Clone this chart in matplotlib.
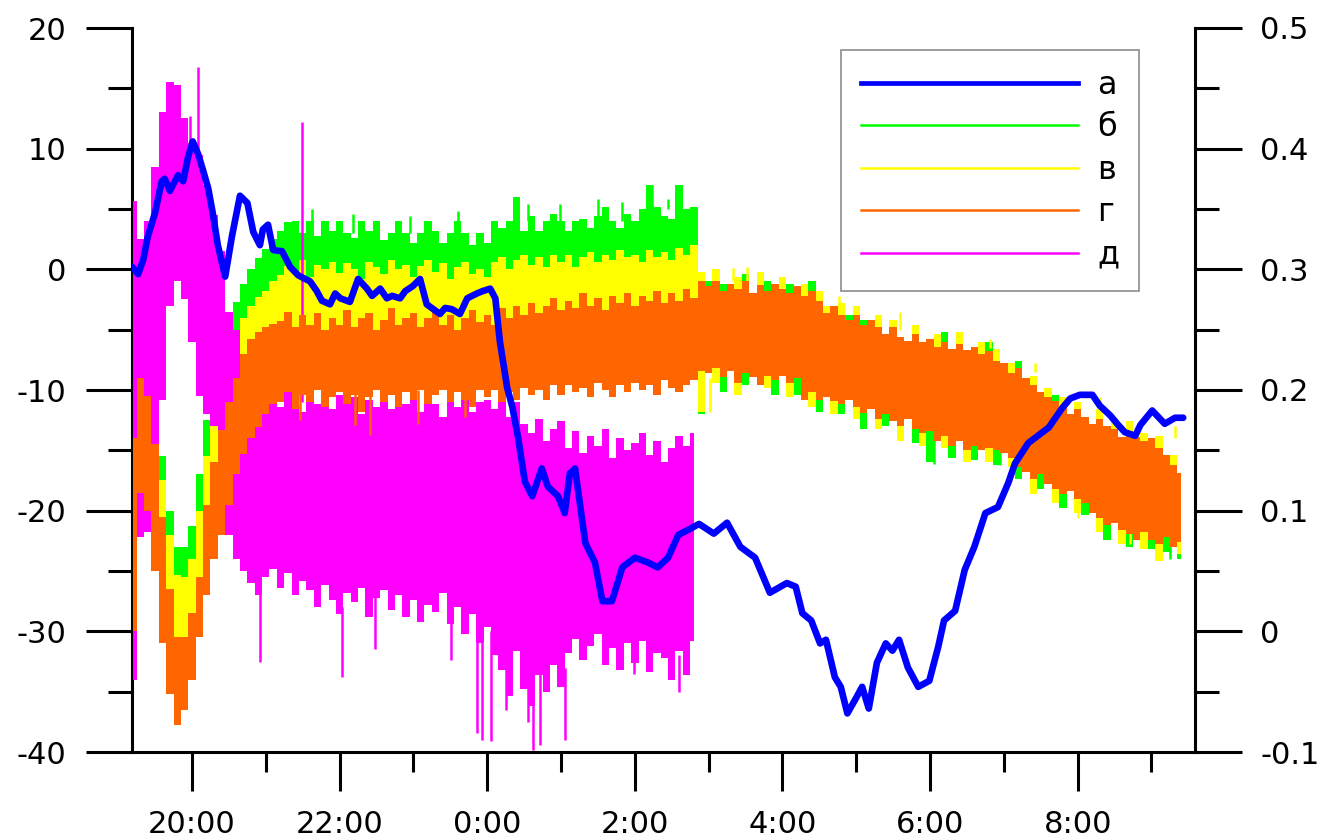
import numpy as np
import matplotlib
matplotlib.use("Agg")
import matplotlib.pyplot as plt
from matplotlib.lines import Line2D
from matplotlib.ticker import FixedLocator, FixedFormatter

plt.rcParams['font.family'] = ['DejaVu Sans']
plt.rcParams['axes.unicode_minus'] = False

# ---------------------------------------------------------------
# Band series (left axis), sampled every 0.1 h starting at 19.2 h
# (clock hours; values above 24 are after midnight)
# ---------------------------------------------------------------
T0, DT = 19.2, 0.1

orange_hi = [
    -14.0, -9.0, -10.5, -14.5, -20.5, -26.5, -30.5, -30.5,
    -28.5, -25.5, -19.5, -16.0, -13.3, -11.0, -9.0, -7.0, -5.8, -5.2,
    -4.8, -4.5, -4.3, -3.5, -4.8, -3.8, -4.6, -3.6, -5.0, -4.0,
    -4.6, -3.4, -4.8, -4.0, -3.6, -5.0, -4.2, -3.2, -4.6, -4.0,
    -3.6, -4.8, -4.0, -3.4, -4.6, -3.8, -5.0, -4.0, -3.4, -4.4,
    -3.8, -4.6, -3.2, -4.0, -3.0, -3.8, -2.8, -3.6, -3.0, -2.4,
    -3.4, -2.6, -3.2, -2.0, -3.0, -2.4, -3.4, -2.2, -2.8, -2.0,
    -3.0, -2.2, -2.6, -1.8, -2.8, -2.0, -2.6, -1.6, -2.4, -1.0,
    -1.4, -1.0, -1.8, -1.2, -1.6, -1.0, -2.0, -1.3, -1.8, -1.2,
    -1.6, -2.0, -1.4, -2.2, -1.8, -2.6, -3.6, -3.0, -3.8, -4.2,
    -3.8, -4.6, -4.2, -4.8, -5.4, -4.8, -5.6, -5.9, -5.4, -6.0,
    -5.8, -6.4, -6.0, -6.6, -6.2, -6.7, -6.4, -7.0, -6.8, -7.6,
    -7.8, -8.6, -8.2, -9.0, -9.6, -10.2, -10.6, -10.9, -11.4, -12.0,
    -11.6, -12.2, -12.8, -12.4, -13.0, -13.2, -13.9, -13.4, -13.9, -14.2,
    -14.0, -14.8, -15.4, -16.2, -16.9,
]
orange_lo = [
    -30.0, -18.5, -20.0, -25.0, -31.0, -35.2, -37.8, -36.5,
    -34.0, -30.5, -27.0, -24.0, -22.0, -19.5, -17.0, -15.3, -14.0, -13.1,
    -12.0, -11.2, -11.0, -10.2, -11.6, -10.4, -11.0, -10.0, -11.4, -10.6,
    -10.2, -11.2, -10.4, -11.8, -10.6, -10.0, -11.0, -10.4, -11.4, -10.2,
    -10.8, -10.0, -11.2, -10.4, -10.0, -11.0, -10.2, -10.8, -11.4, -10.0,
    -10.6, -10.0, -11.0, -10.2, -10.8, -9.8, -10.4, -10.0, -10.8, -9.6,
    -10.4, -9.6, -10.2, -9.8, -10.6, -9.4, -10.0, -10.6, -9.6, -10.2,
    -9.4, -10.0, -9.6, -10.4, -9.2, -9.8, -10.2, -9.6, -9.2, -8.4,
    -8.6, -8.2, -8.9, -8.4, -9.4, -8.6, -8.9, -9.6, -8.8, -9.2,
    -8.8, -9.4, -9.0, -10.8, -10.2, -10.8, -10.6, -10.9, -11.2, -10.8,
    -11.4, -11.9, -11.6, -12.4, -12.0, -12.6, -13.0, -12.4, -13.2, -13.6,
    -13.4, -14.2, -13.8, -14.6, -14.2, -15.0, -14.6, -15.0, -14.8, -15.0,
    -15.2, -15.6, -16.4, -16.8, -17.4, -17.0, -17.8, -18.2, -18.6, -18.4,
    -19.0, -19.4, -20.2, -20.6, -21.2, -21.0, -21.6, -21.9, -22.4, -21.8,
    -22.4, -22.8, -22.2, -23.0, -22.6,
]

green_hi = [
    2.0, -3.0, -7.5, -10.5, -15.5, -20.0, -23.0, -23.0,
    -21.3, -17.0, -12.5, -9.0, -6.0, -4.0, -2.7, -1.2, 0.0, 0.9,
    1.7, 2.5, 3.2, 3.9, 4.0, 3.0, 4.0, 2.8, 4.0, 3.2,
    4.0, 3.0, 2.6, 4.0, 3.2, 4.0, 2.4, 3.0, 4.0, 3.0,
    2.2, 3.0, 4.0, 3.2, 2.2, 3.0, 4.0, 3.0, 2.0, 3.0,
    2.2, 4.0, 3.4, 4.0, 6.0, 3.2, 4.4, 3.2, 4.0, 4.6,
    4.0, 3.2, 4.0, 4.2, 3.4, 4.4, 5.2, 4.0, 3.4, 4.6,
    4.0, 5.0, 7.0, 5.2, 4.4, 4.2, 7.0, 5.0, 5.2, -1.4,
    -1.0, -1.4, -1.2, -1.6, -2.0, -0.4, -2.4, -1.6, -1.0, -1.6,
    -2.0, -1.2, -1.8, -2.6, -1.0, -3.0, -4.0, -3.4, -4.2, -3.8,
    -4.2, -4.2, -4.6, -5.2, -5.8, -4.2, -6.0, -6.2, -5.8, -6.4,
    -6.2, -6.8, -5.2, -7.0, -6.6, -7.0, -6.8, -7.4, -6.0, -8.0,
    -8.2, -9.0, -7.6, -9.4, -10.0, -10.6, -11.0, -10.4, -11.8, -12.4,
    -12.0, -12.6, -13.2, -12.8, -13.4, -12.6, -14.2, -13.8, -14.2, -14.6,
    -14.4, -15.2, -15.8, -16.6, -17.2,
]
green_lo = [
    -22.0, -16.0, -17.0, -21.0, -27.0, -32.0, -35.0, -34.0,
    -32.0, -28.0, -24.0, -21.0, -18.5, -16.0, -14.0, -12.5, -11.5, -11.0,
    -10.0, -9.6, -9.4, -9.0, -9.6, -9.2, -9.8, -9.0, -9.6, -9.2,
    -9.0, -9.6, -9.2, -9.8, -9.4, -9.0, -9.6, -9.2, -9.8, -9.0,
    -9.4, -9.0, -9.6, -9.2, -9.0, -9.6, -9.2, -9.4, -9.8, -9.0,
    -9.4, -9.0, -9.6, -9.2, -9.4, -8.8, -9.2, -9.0, -9.4, -8.8,
    -9.2, -8.8, -9.0, -8.8, -9.2, -8.6, -9.0, -9.2, -8.8, -9.0,
    -8.6, -9.0, -8.8, -9.2, -8.6, -8.8, -9.0, -8.8, -8.6, -12.0,
    -8.2, -8.0, -10.2, -8.0, -9.0, -9.6, -8.4, -9.2, -8.4, -10.4,
    -8.4, -9.0, -10.4, -10.4, -9.8, -11.8, -10.2, -10.6, -12.0, -10.4,
    -11.0, -13.2, -11.2, -12.0, -13.0, -12.2, -12.6, -12.0, -14.4, -13.2,
    -16.0, -13.8, -13.4, -15.6, -13.8, -14.6, -15.8, -14.6, -14.4, -16.2,
    -14.8, -15.2, -17.4, -16.4, -17.0, -18.2, -17.4, -17.8, -19.8, -18.0,
    -18.6, -20.4, -19.8, -20.2, -22.4, -20.6, -21.2, -23.0, -22.0, -21.4,
    -23.2, -22.4, -23.4, -22.6, -24.0,
]

yellow_hi = [
    -6.0, -6.5, -9.5, -12.5, -17.5, -22.0, -25.3, -25.5,
    -24.0, -20.0, -15.5, -12.0, -8.5, -6.8, -5.2, -4.0, -3.0, -2.3,
    -1.8, -1.0, -0.5, 0.3, -0.2, 0.8, -0.6, 0.4, 0.0, 0.6,
    -0.3, 0.5, 0.0, -0.8, 0.6, 0.2, -0.4, 0.8, 0.0, 0.4,
    -0.6, 0.3, 0.8, -0.2, 0.5, -0.8, 0.2, 0.6, -0.4, 0.0,
    -0.6, 0.6, 1.0, 0.0, 0.8, 1.2, 0.4, 1.0, 0.2, 1.2,
    0.6, 1.2, 0.2, 1.0, 1.4, 0.6, 1.2, 0.8, 1.6, 1.0,
    1.2, 0.6, 1.6, 1.0, 1.4, 0.8, 1.8, 1.2, 2.0, -0.2,
    -1.8, 0.0, -2.2, -1.6, -0.6, -1.4, -2.4, -0.2, -2.2, -1.6,
    -0.6, -2.4, -1.8, -1.2, -2.2, -1.8, -3.0, -3.4, -2.8, -4.6,
    -3.0, -5.0, -4.6, -3.8, -5.8, -4.2, -6.0, -6.2, -4.6, -6.4,
    -6.2, -5.4, -6.4, -7.0, -5.2, -7.0, -6.8, -6.0, -7.2, -6.6,
    -8.2, -7.8, -8.6, -9.4, -8.8, -10.6, -9.8, -11.2, -10.6, -12.4,
    -11.0, -12.6, -13.2, -11.6, -13.4, -12.4, -14.2, -12.6, -14.2, -13.6,
    -14.4, -13.8, -15.8, -15.4, -17.2,
]
yellow_lo = [
    -21.0, -15.5, -16.5, -20.5, -26.5, -31.5, -34.5, -33.5,
    -31.5, -27.5, -23.5, -20.5, -18.0, -15.5, -13.5, -12.0, -11.0, -10.5,
    -9.6, -9.2, -9.0, -8.8, -9.2, -9.0, -9.4, -8.8, -9.2, -9.0,
    -8.8, -9.2, -9.0, -9.4, -9.0, -8.8, -9.2, -9.0, -9.4, -8.8,
    -9.0, -8.8, -9.2, -9.0, -8.8, -9.2, -9.0, -9.0, -9.4, -8.8,
    -9.0, -8.8, -9.2, -9.0, -9.0, -8.6, -9.0, -8.8, -9.0, -8.6,
    -8.8, -8.6, -8.8, -8.6, -8.8, -8.4, -8.8, -9.0, -8.6, -8.8,
    -8.4, -8.8, -8.6, -9.0, -8.4, -8.6, -8.8, -8.6, -8.4, -11.8,
    -8.2, -9.4, -8.4, -8.0, -10.4, -8.2, -8.4, -9.2, -9.8, -8.8,
    -8.4, -10.6, -8.6, -10.4, -11.4, -10.4, -10.2, -12.0, -10.8, -10.4,
    -12.4, -11.4, -11.2, -13.2, -11.6, -12.2, -14.2, -12.0, -12.8, -14.6,
    -13.0, -13.8, -14.8, -14.2, -13.8, -16.0, -14.2, -14.6, -16.0, -14.6,
    -14.8, -16.4, -16.0, -16.4, -18.6, -16.6, -17.4, -19.4, -18.2, -18.0,
    -20.2, -19.0, -19.8, -21.8, -20.8, -20.6, -22.8, -21.4, -22.0, -23.2,
    -22.0, -24.2, -21.8, -22.6, -23.6,
]

# д: recorded until about 2:50
magenta_hi = [
    5.7, 2.5, 4.0, 8.5, 13.0, 15.5, 15.3, 12.5,
    10.5, 9.5, 7.0, 4.5, 1.5, -3.5, -5.0, -8.0, -10.5, -11.0,
    -10.8, -10.6, -11.4, -10.2, -11.0, -11.8, -10.4, -11.2, -10.6, -11.6,
    -10.4, -11.2, -10.6, -12.0, -10.8, -11.4, -10.2, -11.6, -10.8, -11.2,
    -10.6, -11.8, -10.8, -11.2, -12.2, -10.6, -11.4, -10.4, -11.8, -11.0,
    -10.8, -11.6, -10.6, -12.2, -11.0, -12.8, -13.6, -12.4, -14.2, -13.2,
    -12.6, -14.8, -13.4, -15.2, -13.8, -14.6, -13.2, -15.6, -14.0, -15.0,
    -14.4, -13.6, -15.4, -14.2, -16.0, -14.8, -13.8, -14.6, -13.6,
]
magenta_lo = [
    -34.0, -22.2, -21.8, -16.0, -10.8, -3.0, -1.0, -2.5,
    -6.0, -10.5, -12.0, -13.0, -13.5, -22.0, -24.0, -25.0, -26.0, -27.0,
    -25.5, -24.8, -26.4, -25.2, -27.0, -25.8, -26.6, -28.0, -26.2, -27.4,
    -28.6, -26.8, -27.6, -26.4, -28.8, -27.2, -26.6, -28.2, -27.0, -28.8,
    -27.4, -29.2, -27.8, -28.4, -26.8, -29.4, -28.0, -30.2, -28.6, -31.0,
    -29.6, -32.0, -33.2, -35.4, -31.6, -34.8, -36.2, -33.6, -35.0, -32.8,
    -34.6, -31.8, -30.6, -32.4, -31.2, -30.2, -32.8, -31.4, -33.2, -31.0,
    -32.6, -30.8, -33.4, -31.8, -32.2, -34.0, -31.6, -33.6, -30.8,
]

# single excursions beyond the band envelopes: time, from, to
magenta_spike_t = [19.97, 20.08, 21.49, 20.92, 22.03, 22.48, 23.51, 23.86,
                   23.93, 24.05, 24.26, 24.55, 24.62, 24.72, 25.05, 25.99, 26.60]
magenta_spike_from = [8.0, 8.0, -11.0, -26.0, -28.0, -27.0, -28.0, -30.0,
                      -30.0, -30.0, -32.0, -33.0, -33.0, -33.0, -33.0, -31.0, -32.0]
magenta_spike_to = [12.7, 16.8, 12.2, -32.5, -33.8, -31.5, -32.4, -38.4,
                    -39.0, -39.1, -36.5, -37.5, -39.8, -39.4, -39.0, -33.5, -35.0]

green_spike_t = [21.63, 22.18, 22.95, 23.60, 24.55, 24.99, 25.50, 25.83,
                 26.23, 26.45, 26.63, 29.07, 30.05, 30.95, 32.30, 33.25]
green_spike_from = [3.0, 3.0, 3.0, 3.0, 4.0, 4.0, 4.0, 4.0,
                    5.0, 5.0, 5.0, -11.5, -14.0, -15.0, -20.5, -22.5]
green_spike_to = [5.0, 4.6, 4.4, 4.8, 5.4, 5.4, 5.8, 5.6,
                  7.0, 5.8, 7.0, -12.9, -16.1, -16.2, -21.5, -24.0]

yellow_spike_t = [27.02, 27.33, 27.52, 28.76, 29.59, 30.81, 31.42, 32.00,
                  32.30, 32.71, 33.12, 33.32]
yellow_spike_from = [-9.0, -1.0, -1.0, -3.0, -5.0, -6.5, -8.5, -19.0,
                     -11.5, -21.5, -22.5, -14.0]
yellow_spike_to = [-11.8, 0.1, 0.2, -2.2, -3.5, -5.8, -7.8, -20.6,
                   -10.6, -22.8, -24.0, -13.0]

orange_spike_t = [21.46, 22.21, 22.41, 23.06, 23.70]
orange_spike_from = [-10.0, -10.0, -10.0, -10.0, -10.0]
orange_spike_to = [-12.5, -12.9, -13.7, -12.8, -12.2]

# ---------------------------------------------------------------
# Series а (right axis)
# ---------------------------------------------------------------
a_time = [
    19.19, 19.27, 19.34, 19.40, 19.50, 19.59, 19.63, 19.70, 19.81, 19.88,
    19.95, 20.01, 20.08, 20.15, 20.22, 20.28, 20.35, 20.45, 20.54, 20.65,
    20.75, 20.83, 20.92, 20.96, 21.03, 21.10, 21.22, 21.33, 21.44, 21.60,
    21.69, 21.76, 21.87, 21.94, 22.01, 22.14, 22.25, 22.37, 22.44, 22.55,
    22.64, 22.71, 22.82, 22.89, 22.99, 23.09, 23.18, 23.27, 23.36, 23.43,
    23.52, 23.63, 23.73, 23.86, 23.94, 24.04, 24.11, 24.17, 24.27, 24.34,
    24.42, 24.51, 24.61, 24.74, 24.82, 24.96, 25.05, 25.12, 25.19, 25.33,
    25.46, 25.56, 25.69, 25.83, 26.00, 26.18, 26.31, 26.45, 26.59, 26.72,
    26.87, 27.07, 27.25, 27.43, 27.63, 27.83, 28.06, 28.18, 28.27, 28.39,
    28.51, 28.59, 28.71, 28.79, 28.88, 29.00, 29.08, 29.17, 29.28, 29.40,
    29.49, 29.58, 29.70, 29.84, 29.99, 30.11, 30.19, 30.34, 30.47, 30.60,
    30.75, 30.92, 31.06, 31.15, 31.33, 31.61, 31.79, 31.90, 32.03, 32.20,
    32.30, 32.44, 32.55, 32.64, 32.78, 32.85, 33.01, 33.18, 33.32, 33.43,
]
a_value = [
    0.302, 0.296, 0.308, 0.327, 0.347, 0.373, 0.375, 0.365, 0.378, 0.373,
    0.394, 0.406, 0.396, 0.382, 0.367, 0.347, 0.320, 0.294, 0.327, 0.361,
    0.355, 0.331, 0.320, 0.333, 0.337, 0.316, 0.315, 0.302, 0.295, 0.290,
    0.282, 0.274, 0.271, 0.280, 0.276, 0.273, 0.292, 0.284, 0.278, 0.284,
    0.276, 0.278, 0.276, 0.282, 0.286, 0.292, 0.271, 0.267, 0.263, 0.268,
    0.267, 0.263, 0.276, 0.280, 0.282, 0.284, 0.276, 0.241, 0.202, 0.186,
    0.160, 0.124, 0.112, 0.135, 0.120, 0.112, 0.098, 0.131, 0.135, 0.073,
    0.057, 0.025, 0.025, 0.053, 0.061, 0.057, 0.053, 0.061, 0.080, 0.084,
    0.089, 0.081, 0.090, 0.070, 0.061, 0.032, 0.040, 0.037, 0.015, 0.009,
    -0.010, -0.007, -0.038, -0.046, -0.068, -0.055, -0.046, -0.064, -0.026, -0.010,
    -0.016, -0.007, -0.030, -0.046, -0.041, -0.013, 0.009, 0.017, 0.051, 0.070,
    0.098, 0.103, 0.123, 0.139, 0.156, 0.169, 0.185, 0.193, 0.196, 0.196,
    0.187, 0.179, 0.171, 0.165, 0.162, 0.171, 0.183, 0.172, 0.177, 0.177,
]

legend_labels = ['а', 'б', 'в', 'г', 'д']
x_major = [20, 22, 24, 26, 28, 30, 32]
x_labels = ['20:00', '22:00', '0:00', '2:00', '4:00', '6:00', '8:00']
x_minor = [21, 23, 25, 27, 29, 31, 33]
left_major = [-40, -30, -20, -10, 0, 10, 20]
right_major = [-0.1, 0.0, 0.1, 0.2, 0.3, 0.4, 0.5]
right_labels = ['-0.1', '0', '0.1', '0.2', '0.3', '0.4', '0.5']

BLUE, GREEN, YELLOW, ORANGE, MAGENTA = '#0000FF', '#00FF00', '#FFFF00', '#FF6600', '#FF00FF'

# ---------------------------------------------------------------
W, H = 1322, 838
fig = plt.figure(figsize=(W / 100, H / 100), dpi=100)
ax = fig.add_axes([132 / W, 1 - 752 / H, (1195 - 132) / W, (752 - 28) / H])
ax2 = ax.twinx()

t_band = np.round(T0 + DT * np.arange(len(orange_hi)), 2)
t_mag = t_band[:len(magenta_hi)]

ax.fill_between(t_band, green_lo, green_hi, step='mid', color=GREEN, lw=0, zorder=1)
ax.vlines(green_spike_t, green_spike_from, green_spike_to, color=GREEN, lw=1.8, zorder=1)
ax.fill_between(t_band, yellow_lo, yellow_hi, step='mid', color=YELLOW, lw=0, zorder=2)
ax.vlines(yellow_spike_t, yellow_spike_from, yellow_spike_to, color=YELLOW, lw=1.8, zorder=2)
ax.fill_between(t_mag, magenta_lo, magenta_hi, step='mid', color=MAGENTA, lw=0, zorder=3)
ax.vlines(magenta_spike_t, magenta_spike_from, magenta_spike_to, color=MAGENTA, lw=1.8, zorder=3)
ax.fill_between(t_band, orange_lo, orange_hi, step='mid', color=ORANGE, lw=0, zorder=4)
ax.vlines(orange_spike_t, orange_spike_from, orange_spike_to, color=ORANGE, lw=1.8, zorder=4)

ax2.plot(a_time, a_value, color=BLUE, lw=4.8, solid_joinstyle='round',
         solid_capstyle='round', zorder=5)

ax.set_xlim(19.187, 33.59)
ax.set_ylim(-40, 20)
ax2.set_ylim(-0.1, 0.5)

for a in (ax, ax2):
    a.spines['top'].set_visible(False)
    for s in a.spines.values():
        s.set_linewidth(2.2)
ax.spines['right'].set_visible(False)
ax2.spines['left'].set_visible(False)
ax2.spines['bottom'].set_visible(False)

ax.xaxis.set_major_locator(FixedLocator(x_major))
ax.xaxis.set_major_formatter(FixedFormatter(x_labels))
ax.xaxis.set_minor_locator(FixedLocator(x_minor))
ax.yaxis.set_major_locator(FixedLocator(left_major))
ax.yaxis.set_minor_locator(FixedLocator([v + 5 for v in left_major[:-1]]))
ax2.yaxis.set_major_locator(FixedLocator(right_major))
ax2.yaxis.set_major_formatter(FixedFormatter(right_labels))
ax2.yaxis.set_minor_locator(FixedLocator([round(v + 0.05, 2) for v in right_major[:-1]]))

ax.tick_params(axis='x', which='major', direction='out', length=28, width=2.2, pad=14, labelsize=22)
ax.tick_params(axis='x', which='minor', direction='out', length=14.5, width=2.2)
ax.tick_params(axis='y', which='major', direction='out', length=33, width=2.2, pad=14, labelsize=22)
ax.tick_params(axis='y', which='minor', direction='out', length=17, width=2.2)
ax2.tick_params(axis='y', which='major', direction='out', length=34, width=2.2, pad=13, labelsize=22)
ax2.tick_params(axis='y', which='minor', direction='out', length=17, width=2.2)

handles = [Line2D([], [], color=BLUE, lw=3.4),
           Line2D([], [], color=GREEN, lw=1.8),
           Line2D([], [], color=YELLOW, lw=1.8),
           Line2D([], [], color=ORANGE, lw=1.8),
           Line2D([], [], color=MAGENTA, lw=1.8)]
leg = ax2.legend(handles, legend_labels, loc='upper left',
                 bbox_to_anchor=(841 / W, 1 - 50 / H), bbox_transform=fig.transFigure,
                 frameon=True, fancybox=False, framealpha=1, edgecolor='#8c8c8c',
                 fontsize=23, handlelength=6.8, handletextpad=0.6,
                 labelspacing=0.36, borderpad=0.62, borderaxespad=0)
leg.get_frame().set_linewidth(1.2)
leg.set_zorder(10)

fig.savefig('out.png', dpi=100)
